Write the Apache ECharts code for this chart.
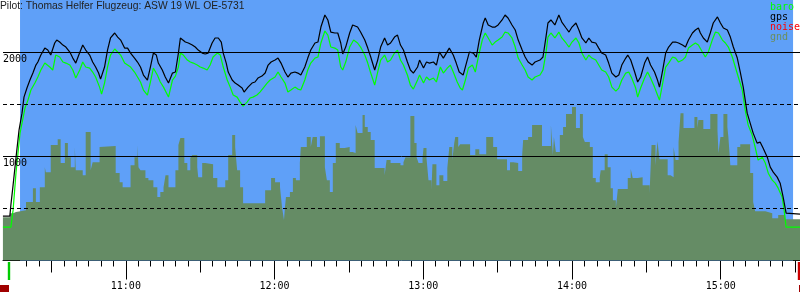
<!DOCTYPE html>
<html>
<head>
<meta charset="utf-8">
<script src="https://cdn.jsdelivr.net/npm/echarts@6/dist/echarts.min.js"></script>
<style>
html,body{margin:0;padding:0;background:#fff;}
#chart{width:800px;height:300px;}
</style>
</head>
<body>
<div id="chart"></div>
<script>
// time values: minutes after 10:00
const titleText = 'Pilot: Thomas Helfer Flugzeug: ASW 19 WL OE-5731';
const hourTicks = [60, 120, 180, 240, 300];
const hourLabels = ['11:00', '12:00', '13:00', '14:00', '15:00'];
const halfHourTicks = [30, 90, 150, 210, 270, 330];
const altLabels = [1000, 2000];
const solidLevels = [1000, 2000];
const dashedLevels = [500, 1500];
const flightPeriod = [17.3, 329.2];
const takeoffMin = 13.85;
const landingMin = 331.55;
const noiseSpans = [[10.43, 14.05], [331.6, 332.0]];

const gpsMin = [
10.4,13.2,13.6,14.5,15.7,16.9,18.1,18.9,20.1,21.3,
22.5,23.7,24.5,25.7,27.3,28.5,29.7,31.3,32.1,33.3,
34.6,35.8,37.4,38.6,39.8,41.0,42.6,43.8,45.4,46.6,
47.8,49.0,49.8,51.4,52.6,53.8,55.5,56.7,57.9,59.5,
60.7,61.9,63.5,64.7,65.9,67.1,68.7,69.9,71.1,72.3,
73.1,74.7,75.9,77.2,78.8,80.0,81.2,82.0,82.8,84.0,
85.2,86.8,88.0,89.2,90.8,92.0,93.2,94.8,96.0,97.3,
98.5,99.3,100.5,101.3,102.9,104.1,105.3,106.9,107.7,109.3,
110.9,112.1,113.3,114.9,116.2,117.4,118.6,120.2,121.4,122.6,
124.2,125.4,126.6,128.2,129.4,130.6,132.2,133.4,134.6,136.3,
137.5,138.7,140.3,141.5,142.7,144.3,145.5,146.7,147.5,148.7,
150.3,151.5,152.3,153.5,154.7,156.4,157.6,158.8,160.4,161.6,
162.8,164.4,165.6,166.8,168.4,169.6,170.8,172.0,173.6,174.8,
176.0,177.7,178.5,180.1,181.3,182.5,184.1,185.3,186.5,188.1,
189.3,190.5,192.1,193.3,194.5,196.1,197.4,198.6,200.2,201.4,
202.6,204.2,205.0,206.2,207.8,209.0,210.2,211.8,213.0,214.2,
215.8,217.1,218.3,219.9,221.1,222.3,223.9,225.1,227.1,228.3,
229.5,230.3,231.5,233.1,234.7,235.9,237.6,238.8,240.0,241.6,
242.8,244.0,245.6,246.8,248.0,249.6,250.8,252.0,253.6,254.8,
256.1,257.7,258.9,260.1,261.7,262.5,263.7,265.3,266.5,267.7,
269.3,270.5,271.7,273.3,274.5,275.3,276.6,277.8,279.0,280.6,
281.8,283.0,284.6,285.8,287.0,288.6,289.8,291.0,291.8,293.0,
294.6,295.8,297.0,298.7,299.9,301.1,302.7,303.9,305.1,306.7,
307.9,309.1,310.7,311.9,313.1,314.7,315.9,317.1,318.8,320.0,
321.2,322.8,324.0,325.2,326.4,327.2,332.0
];
const gpsAlt = [
426,426,532,724,993,1253,1416,1570,1657,1734,
1801,1878,1907,1974,2041,2022,1974,2090,2118,2099,
2070,2051,2003,1945,1897,1974,2070,2022,1974,1907,
1859,1801,1743,1859,2022,2138,2186,2147,2118,2041,
2041,1993,1945,1907,1859,1782,1734,1859,1993,1974,
1897,1830,1763,1705,1801,1811,1993,2138,2147,2099,
2090,2070,2051,2022,1993,1984,1993,2090,2138,2138,
2099,1993,1897,1811,1734,1705,1686,1657,1618,1666,
1705,1715,1753,1772,1801,1878,1907,1926,1945,1897,
1811,1763,1801,1811,1801,1782,1859,1945,2022,2090,
2099,2243,2359,2311,2195,2186,2186,2090,1984,2051,
2186,2263,2272,2243,2195,2118,2041,1955,1830,1926,
2051,2138,2070,2090,2147,2166,2070,2022,1907,1830,
1801,1859,1926,1849,1907,1897,1907,1878,2003,1945,
1993,2041,1974,1897,1811,1782,1897,2003,1993,1955,
2118,2282,2330,2263,2243,2243,2263,2311,2359,2330,
2263,2215,2118,2022,1955,1907,1878,1907,1926,1955,
2147,2282,2311,2263,2359,2291,2234,2195,2243,2282,
2215,2138,2090,2138,2099,2090,2041,1993,1974,1897,
1801,1763,1782,1878,1945,1974,1926,1811,1715,1763,
1897,1955,1878,1811,1734,1666,1830,1993,2051,2099,
2099,2090,2070,2051,2118,2186,2215,2234,2186,2138,
2099,2186,2282,2340,2282,2234,2215,2147,2051,1945,
1811,1666,1416,1320,1224,1128,1138,1080,993,897,
849,801,743,609,455,445,445
];

const baroMin = [
10.4,13.6,14.5,15.7,17.3,19.3,20.5,21.7,23.3,24.5,
25.7,27.3,27.7,29.3,30.5,31.7,33.3,34.6,35.8,37.4,
38.6,39.8,41.4,42.6,43.8,45.4,46.6,47.8,49.4,50.2,
51.4,52.6,53.8,55.5,56.7,57.9,59.5,60.7,61.9,63.5,
64.7,65.9,67.1,68.7,69.9,71.1,72.7,73.9,75.2,77.2,
78.8,80.0,81.2,82.0,83.2,84.8,86.0,87.2,88.8,90.0,
91.2,92.8,94.0,95.2,96.9,98.1,99.3,100.9,102.1,103.3,
104.9,106.1,107.3,108.9,110.1,111.3,112.9,114.1,115.4,117.0,
118.2,120.2,121.4,122.6,124.2,125.4,126.6,128.2,129.4,130.6,
132.2,133.4,134.6,136.3,137.5,138.7,140.3,141.5,142.7,144.3,
145.5,146.7,147.5,148.7,150.3,151.9,153.5,154.7,156.4,157.6,
158.8,160.4,161.6,162.8,164.4,165.6,166.8,168.4,169.6,170.8,
172.0,173.6,174.8,176.0,177.7,178.5,180.1,181.3,182.5,184.1,
185.3,186.9,188.1,189.7,190.9,192.1,193.7,194.9,195.8,197.0,
198.2,199.8,201.0,202.2,203.8,205.0,206.2,207.8,209.0,210.2,
211.8,213.0,214.2,215.8,217.1,218.3,219.9,221.1,222.3,223.9,
225.1,227.1,228.3,229.5,230.3,231.5,233.1,234.7,235.9,237.6,
238.8,240.0,241.6,242.8,244.0,245.6,246.8,248.0,249.6,250.8,
252.0,253.6,254.8,256.1,257.7,258.9,260.1,261.7,262.9,264.1,
265.7,266.5,267.7,269.3,270.5,271.7,273.3,274.5,275.3,276.6,
277.8,279.0,280.6,281.8,283.0,284.6,285.8,287.0,288.6,289.8,
291.0,292.6,293.8,295.0,296.6,297.9,299.1,300.7,301.9,303.1,
304.7,305.9,307.1,308.7,309.9,311.1,312.7,313.9,315.1,316.8,
318.0,319.2,320.8,322.0,323.2,324.8,325.6,326.4,332.0
];
const baroAlt = [
320,320,484,849,1224,1465,1541,1638,1705,1763,
1830,1897,1916,1859,1830,1974,1955,1907,1897,1878,
1830,1753,1830,1907,1859,1849,1811,1763,1666,1599,
1705,1859,1974,2032,2003,1974,1897,1878,1859,1811,
1763,1715,1638,1590,1715,1849,1782,1715,1666,1570,
1734,1772,1859,1993,1974,1926,1907,1897,1878,1859,
1849,1830,1878,1955,1993,1974,1859,1734,1666,1590,
1570,1522,1484,1522,1561,1570,1590,1618,1657,1705,
1734,1763,1811,1763,1705,1618,1638,1666,1647,1638,
1734,1830,1897,1945,1955,2090,2205,2166,2051,2041,
2022,1859,1830,1907,2051,2118,2090,2051,1974,1897,
1801,1686,1811,1926,1974,1907,1926,1993,2022,1926,
1878,1782,1686,1647,1734,1782,1705,1763,1734,1753,
1715,1859,1801,1849,1878,1811,1715,1657,1638,1734,
1849,1878,1811,1955,2118,2186,2138,2070,2099,2118,
2147,2195,2186,2138,2051,1945,1878,1830,1763,1734,
1763,1782,1830,1993,2147,2186,2138,2195,2138,2090,
2051,2099,2138,2090,1993,1926,1974,1945,1926,1878,
1830,1811,1763,1666,1628,1657,1734,1801,1811,1753,
1657,1570,1657,1753,1811,1753,1666,1590,1541,1705,
1859,1897,1955,1945,1907,1926,1955,2041,2070,2090,
2070,2003,1955,2003,2118,2195,2186,2118,2090,2051,
1955,1859,1763,1638,1445,1301,1205,1090,965,993,
936,839,772,743,695,609,484,320,320
];

const gndMin = [
10.4,13.2,14.5,15.7,19.7,22.5,23.7,25.3,27.3,27.7,
29.7,32.5,33.7,35.4,36.6,37.8,39.4,39.8,42.6,43.8,
45.8,46.6,49.4,50.2,55.9,57.5,58.7,61.9,63.5,64.7,
65.1,65.9,67.9,69.1,71.1,72.7,73.9,75.2,76.0,77.2,
80.0,81.2,82.0,83.6,84.8,86.0,86.8,88.8,89.2,90.8,
92.0,95.2,96.9,100.1,101.3,102.9,104.1,104.9,106.1,107.3,
116.2,118.6,120.2,122.2,123.0,123.8,124.2,124.6,126.2,127.4,
128.6,130.2,130.6,133.0,134.6,135.4,137.1,138.3,140.3,141.1,
142.3,143.5,144.7,146.3,148.3,150.3,151.5,152.7,153.5,155.5,
156.4,157.6,158.8,160.4,164.4,165.2,166.8,170.8,172.0,172.8,
174.8,176.4,177.3,178.1,179.7,180.1,181.3,182.1,183.3,183.7,
185.3,186.5,188.1,189.7,190.5,191.7,192.5,192.9,194.1,194.9,
198.9,201.0,202.6,205.4,208.2,209.8,213.8,215.0,216.3,218.3,
219.9,220.3,222.3,223.9,227.9,231.5,232.3,232.7,233.5,235.1,
236.4,237.6,240.0,241.6,243.2,244.4,245.2,247.2,248.4,249.6,
251.2,251.6,253.2,254.4,255.6,256.5,257.7,258.5,262.5,263.7,
264.5,266.5,268.5,271.3,272.1,273.7,274.5,275.3,278.6,279.8,
281.0,281.8,283.0,283.8,285.0,289.4,290.6,291.0,293.0,295.8,
298.7,299.1,299.9,301.1,302.7,303.1,303.9,306.7,307.9,311.9,
313.1,313.9,318.0,320.8,323.2,326.0,332.0
];
const gndAlt = [
416,455,465,484,561,695,561,705,897,849,
1109,1166,936,1128,993,897,1090,868,820,1234,
868,945,1090,1099,840,753,705,916,993,1109,
897,868,792,772,705,609,657,705,820,705,
868,1109,1176,936,868,984,1013,897,801,936,
926,792,705,772,1013,1205,1090,868,705,551,
676,792,753,705,513,388,513,609,657,792,
772,936,1090,1186,1090,1186,1090,1195,897,772,
657,936,1128,1080,1090,1042,1032,1301,1224,1397,
1282,1234,1157,888,820,965,936,916,945,993,
1388,1128,993,936,984,1080,984,772,676,926,
724,820,763,888,1090,965,1128,1186,1090,1118,
1013,1070,1022,1186,1090,974,868,945,936,859,
1013,1157,1186,1301,1099,1301,1013,1186,1042,1205,
1282,1407,1474,1272,1407,1186,1138,1090,792,753,
801,868,1022,897,695,580,503,686,792,878,
792,801,724,647,1109,916,1147,974,820,801,
1090,965,1138,1416,1272,1378,1272,1349,1263,1407,
1253,1032,1186,1407,1282,1186,916,1090,1118,840,
561,474,455,407,436,397,397
];

// axis range (minutes after 10:00, metres)
const XMIN = 10.43, XMAX = 332.0, YMAX = 2503;

const pairs = (xs, ys) => xs.map((x, i) => [x, ys[i]]);
const minorTicks = [];
for (let m = 20; m <= 330; m += 5) minorTicks.push(m);

const COL_BLUE = '#5fa0f8';
const COL_GND = '#658c65';
const MONO = 'DejaVu Sans Mono';

const chart = echarts.init(document.getElementById('chart'), null, {renderer: 'canvas'});

const baseX = (grid) => ({
  type: 'value', gridIndex: grid, min: XMIN, max: XMAX, position: 'bottom',
  splitLine: {show: false}, axisLabel: {show: false}, axisTick: {show: false},
  axisLine: {show: false}
});

chart.setOption({
  animation: false,
  backgroundColor: '#ffffff',
  title: {
    text: titleText, left: 0, top: 0, padding: [1, 0, 0, 0],
    textStyle: {fontFamily: 'Liberation Sans', fontSize: 10.3, fontWeight: 'normal', color: '#222'}
  },
  legend: {
    orient: 'vertical', right: 0, top: 2, padding: 0, itemGap: 0,
    itemWidth: 0, itemHeight: 10, itemStyle: {opacity: 0},
    selectedMode: false,
    textStyle: {fontFamily: MONO, fontSize: 10, padding: 0, lineHeight: 10},
    data: [
      {name: 'baro', textStyle: {color: '#00ff00'}},
      {name: 'gps', textStyle: {color: '#000000'}},
      {name: 'noise', textStyle: {color: '#ff0000'}},
      {name: 'gnd', textStyle: {color: '#6b8e5e'}}
    ]
  },
  grid: [
    {left: 0, right: 0, top: 0, bottom: 39.5},
    {left: 0, right: 0, top: 262, height: 18},
    {left: 0, right: 0, top: 285, height: 7}
  ],
  xAxis: [
    Object.assign(baseX(0), {
      axisLine: {show: true, lineStyle: {color: '#000', width: 1}},
      axisTick: {show: true, customValues: minorTicks, length: 6, lineStyle: {color: '#000', width: 1}}
    }),
    Object.assign(baseX(0), {
      axisTick: {show: true, customValues: halfHourTicks, length: 12, lineStyle: {color: '#000', width: 1}}
    }),
    Object.assign(baseX(0), {
      axisTick: {show: true, customValues: hourTicks, length: 19, lineStyle: {color: '#000', width: 1}},
      axisLabel: {
        show: true, customValues: hourTicks, margin: 21,
        fontFamily: MONO, fontSize: 10, color: '#000',
        formatter: (v) => hourLabels[hourTicks.indexOf(Math.round(v))] || ''
      }
    }),
    baseX(1),
    baseX(2)
  ],
  yAxis: [
    {
      type: 'value', gridIndex: 0, min: 0, max: YMAX,
      axisLine: {show: false}, axisTick: {show: false}, splitLine: {show: false},
      axisLabel: {
        show: true, inside: true, margin: 0, customValues: altLabels,
        verticalAlign: 'top', padding: [2, 0, 0, 0],
        fontFamily: MONO, fontSize: 10, color: '#000',
        formatter: (v) => String(Math.round(v))
      },
      z: 10
    },
    {type: 'value', gridIndex: 1, min: 0, max: 1, show: false},
    {type: 'value', gridIndex: 2, min: 0, max: 1, show: false}
  ],
  series: [
    {
      name: 'flight', type: 'line', xAxisIndex: 0, yAxisIndex: 0, data: [], z: 1,
      silent: true,
      markArea: {
        silent: true, itemStyle: {color: COL_BLUE, opacity: 1},
        data: [[{xAxis: flightPeriod[0]}, {xAxis: flightPeriod[1]}]]
      }
    },
    {
      name: 'gnd', type: 'line', xAxisIndex: 0, yAxisIndex: 0, z: 2,
      step: 'end', showSymbol: false, symbol: 'none', silent: true,
      color: COL_GND,
      lineStyle: {width: 0, color: COL_GND},
      areaStyle: {color: COL_GND, opacity: 1},
      data: pairs(gndMin, gndAlt)
    },
    {
      name: 'levels', type: 'line', xAxisIndex: 0, yAxisIndex: 0, data: [], z: 3,
      silent: true,
      markLine: {
        silent: true, symbol: ['none', 'none'], label: {show: false},
        data: [
          ...solidLevels.map(v => ({yAxis: v, lineStyle: {color: '#000', width: 1, type: 'solid'}})),
          ...dashedLevels.map(v => ({yAxis: v, lineStyle: {color: '#000', width: 1, type: [4, 3]}}))
        ]
      }
    },
    {
      name: 'baro', type: 'line', xAxisIndex: 0, yAxisIndex: 0, z: 4,
      showSymbol: false, symbol: 'none', color: '#00ff00',
      lineStyle: {width: 1.2, color: '#00ff00'},
      data: pairs(baroMin, baroAlt)
    },
    {
      name: 'gps', type: 'line', xAxisIndex: 0, yAxisIndex: 0, z: 5,
      showSymbol: false, symbol: 'none', color: '#000000',
      lineStyle: {width: 1.2, color: '#000000'},
      data: pairs(gpsMin, gpsAlt)
    },
    {
      name: 'events', type: 'line', xAxisIndex: 3, yAxisIndex: 1, data: [], silent: true,
      markLine: {
        silent: true, symbol: ['none', 'none'], label: {show: false},
        data: [
          {xAxis: takeoffMin, lineStyle: {color: '#00cc00', width: 2.4, type: 'solid'}},
          {xAxis: landingMin, lineStyle: {color: '#cc0000', width: 2.4, type: 'solid'}}
        ]
      }
    },
    {
      name: 'noise', type: 'line', xAxisIndex: 4, yAxisIndex: 2, data: [], silent: true,
      color: '#ff0000',
      markArea: {
        silent: true, itemStyle: {color: '#a00000', opacity: 1},
        data: noiseSpans.map(s => [{xAxis: s[0]}, {xAxis: s[1]}])
      }
    }
  ]
});
</script>
</body>
</html>
